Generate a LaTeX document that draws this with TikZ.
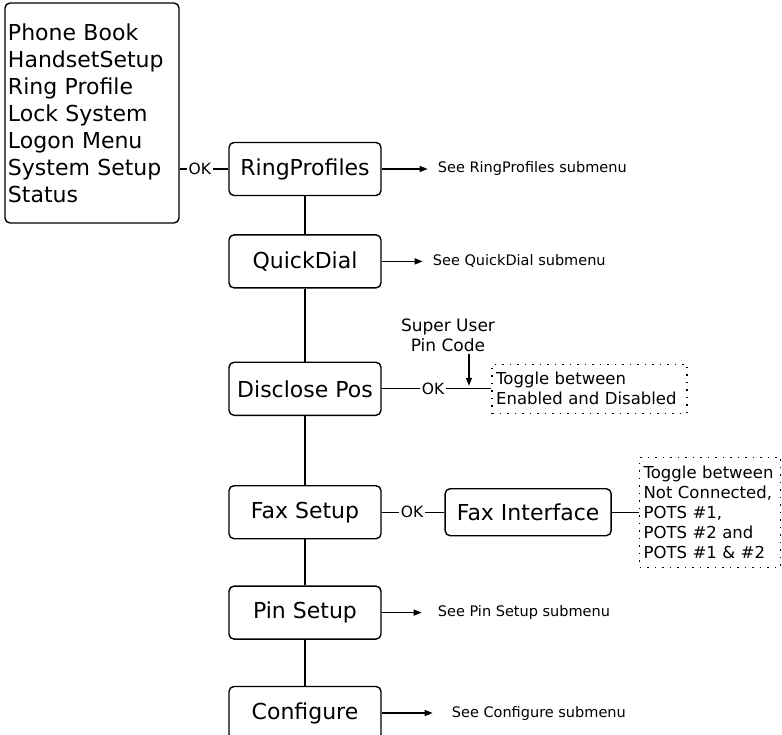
\documentclass[tikz,border=0pt]{standalone}
\usepackage{fontspec}
\setmainfont{DejaVu Sans}
\usetikzlibrary{arrows.meta,positioning,calc}

\begin{document}
\begin{tikzpicture}[x=1pt, y=-1pt, node distance=20pt, every node/.style={inner sep=2pt}]
        \tikzset{
            menu/.style={draw, line width=1.4pt, rounded corners=5pt, minimum width=152pt, minimum height=53pt, font=\fontsize{22}{27}\selectfont},
            ok/.style={font=\fontsize{15.5}{18}\selectfont},
            note/.style={anchor=west, inner xsep=10pt, font=\fontsize{14.5}{18}\selectfont},
            toggle/.style={draw, line width=1.4pt, dash pattern=on 1.5pt off 6pt, align=left, inner xsep=4pt, font=\fontsize{16.5}{20}\selectfont},
            ln/.style={line width=1.2pt},
            arr/.style={ln, -{Triangle[length=8pt,width=6pt]}}
        }
        \useasboundingbox (0,0) rectangle (782,735);
        % top level menu
        \node[draw, line width=1.4pt, rounded corners=5pt, minimum width=174pt, minimum height=220pt, text width=168pt, inner xsep=3pt, align=left, font=\fontsize{22}{27}\selectfont] (top) at (92,113) {Phone Book\\HandsetSetup\\Ring Profile\\Lock System\\Logon Menu\\System Setup\\Status};
        % system setup column
        \node[menu] (rp) at (305,169) {RingProfiles};
        \node[menu, below=38pt of rp] (qd) {QuickDial};
        \node[menu, below=73pt of qd] (dp) {Disclose Pos};
        \node[menu, below=69pt of dp] (fs) {Fax Setup};
        \node[menu, below=46pt of fs] (ps) {Pin Setup};
        \node[menu, below=46pt of ps] (cf) {Configure};
        \node[ok, left=15pt of rp] (ok1) {OK};
        % submenu pointers
        \node[note, right=46pt of rp] (rpn) {See RingProfiles submenu};
        \node[note, right=41pt of qd] (qdn) {See QuickDial submenu};
        \node[note, right=40pt of ps, inner xsep=16pt] (psn) {See Pin Setup submenu};
        \node[note, right=51pt of cf, inner xsep=19pt] (cfn) {See Configure submenu};
        % disclose pos
        \node[ok, right=38pt of dp] (ok2) {OK};
        \node[toggle, right=45pt of ok2, text width=187pt, minimum height=49pt] (tg1) {Toggle between\\Enabled and Disabled};
        \coordinate (pin) at ($(ok2.east)!0.5!(tg1.west)$);
        \node[ok, align=center, font=\fontsize{17}{20}\selectfont] (su) at (448,335) {Super User\\Pin Code};
        % fax setup
        \node[ok, right=17pt of fs] (ok3) {OK};
        \node[menu, right=19pt of ok3, minimum width=166pt, minimum height=47pt] (fi) {Fax Interface};
        \node[toggle, right=27pt of fi, text width=133pt, minimum height=110pt] (tg2) {Toggle between\\Not Connected,\\POTS \#1,\\POTS \#2 and\\POTS \#1 \& \#2};
        \draw[ln] (top.east |- ok1) -- (ok1);
        \draw[ln] (ok1) -- (rp);
        \draw[ln] (rp) -- (qd);
        \draw[ln] (qd) -- (dp);
        \draw[ln] (dp) -- (fs);
        \draw[ln] (fs) -- (ps);
        \draw[ln] (ps) -- (cf);
        \draw[arr] (rp) -- (rpn);
        \draw[arr] (qd) -- (qdn);
        \draw[arr] (ps) -- (psn);
        \draw[arr] (cf) -- (cfn);
        \draw[ln] (dp) -- (ok2);
        \draw[ln] (ok2) -- (tg1);
        \draw[arr] (su.south -| pin) -- ([yshift=3pt]pin);
        \draw[ln] (fs) -- (ok3);
        \draw[ln] (ok3) -- (fi);
        \draw[ln] (fi) -- (tg2);
    \end{tikzpicture}
\end{document}
